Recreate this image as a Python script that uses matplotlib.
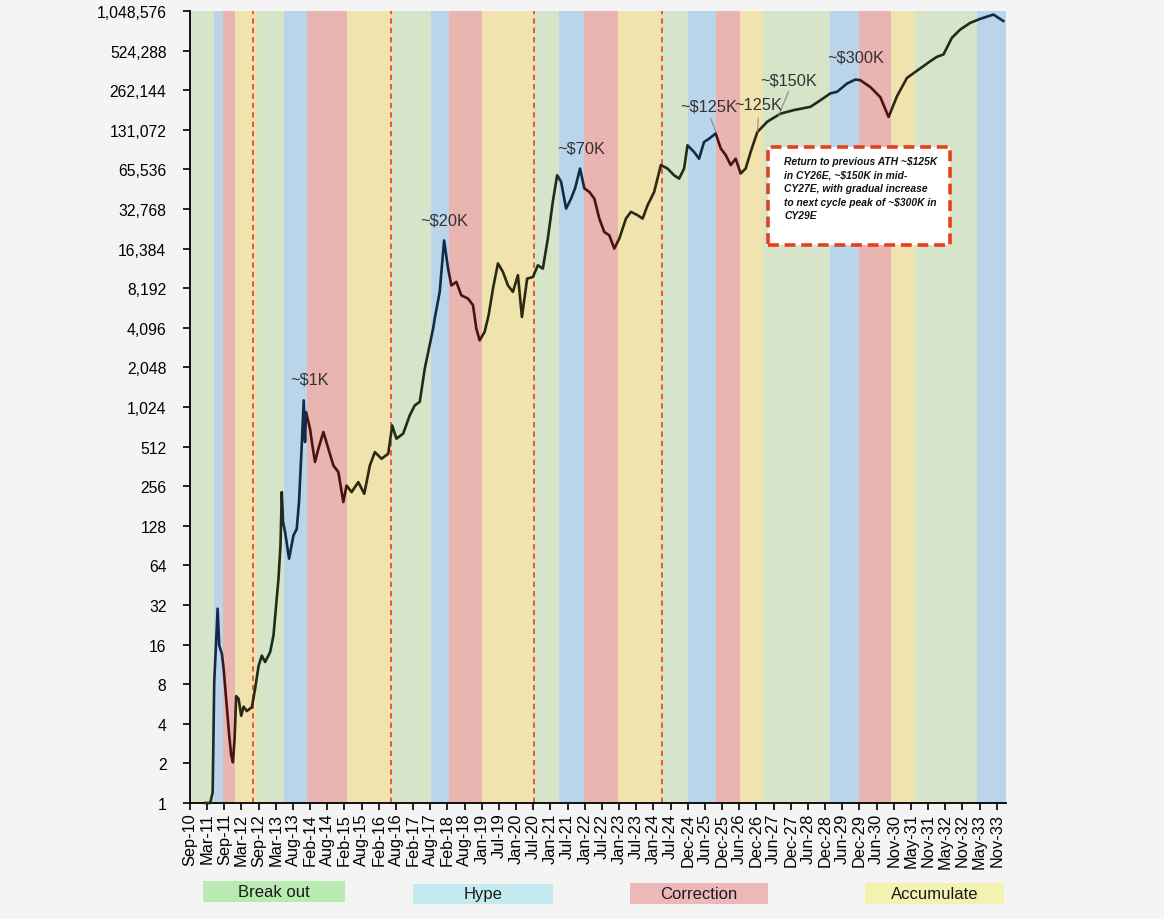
import matplotlib
matplotlib.use("Agg")
import matplotlib.pyplot as plt
from matplotlib.patches import Rectangle
from datetime import datetime, timedelta
import numpy as np

plt.rcParams['font.family'] = ['Liberation Sans', 'DejaVu Sans']

# ---------------- data ----------------
# price line (decimal year, USD); after mid-2026 = projection
years = [2011.145, 2011.288, 2011.357, 2011.403, 2011.500, 2011.546, 2011.623, 2011.672,
         2011.767, 2011.833, 2011.890, 2011.939, 2011.987, 2012.033, 2012.102, 2012.176,
         2012.245, 2012.339, 2012.483, 2012.577, 2012.675, 2012.769, 2012.864, 2013.007,
         2013.104, 2013.179, 2013.247, 2013.305, 2013.342, 2013.379, 2013.436, 2013.551,
         2013.677, 2013.771, 2013.837, 2013.915, 2013.972, 2014.009, 2014.038, 2014.152,
         2014.221, 2014.296, 2014.393, 2014.536, 2014.679, 2014.823, 2014.966, 2015.109,
         2015.203, 2015.347, 2015.539, 2015.710, 2015.871, 2016.014, 2016.206, 2016.398,
         2016.512, 2016.635, 2016.827, 2017.016, 2017.160, 2017.303, 2017.446, 2017.687,
         2017.732, 2017.876, 2018.002, 2018.116, 2018.211, 2018.354, 2018.497, 2018.689,
         2018.832, 2018.927, 2019.021, 2019.164, 2019.279, 2019.405, 2019.548, 2019.691,
         2019.835, 2019.978, 2020.121, 2020.236, 2020.387, 2020.551, 2020.694, 2020.837,
         2020.980, 2021.123, 2021.247, 2021.361, 2021.504, 2021.647, 2021.762, 2021.905,
         2022.028, 2022.172, 2022.315, 2022.458, 2022.601, 2022.744, 2022.888, 2023.031,
         2023.223, 2023.366, 2023.558, 2023.701, 2023.844, 2024.033, 2024.225, 2024.417,
         2024.606, 2024.749, 2024.892, 2024.990, 2025.179, 2025.322, 2025.465, 2025.608,
         2025.800, 2025.943, 2026.087, 2026.230, 2026.373, 2026.516, 2026.659, 2026.803,
         2026.995, 2027.281, 2027.662, 2028.043, 2028.521, 2028.807, 2029.094, 2029.286,
         2029.572, 2029.810, 2029.953, 2030.239, 2030.526, 2030.764, 2031.004, 2031.291,
         2031.623, 2031.958, 2032.150, 2032.339, 2032.579, 2032.817, 2033.103, 2033.390,
         2033.771, 2034.057]
prices = [1.0, 1.0, 1.2, 8.3, 30, 15.8, 13.6, 10.5,
          5.2, 3.25, 2.3, 2.04, 3.07, 6.5, 6.2, 4.6,
          5.4, 5.0, 5.35, 7.4, 11, 13.2, 11.8, 14,
          18.8, 31.7, 50.6, 90.8, 231, 137, 115, 72,
          108, 121, 194, 523, 1150, 555, 938, 700,
          523, 391, 494, 661, 494, 368, 328, 194,
          259, 231, 275, 224, 368, 465, 414, 452,
          741, 588, 643, 885, 1053, 1120, 2000, 4040,
          4800, 7680, 18900, 11550, 8600, 9150, 7230, 6830,
          6080, 4040, 3290, 3800, 5090, 8130, 12650, 10900,
          8600, 7680, 10300, 4950, 9700, 9960, 12230, 11550,
          19500, 37200, 59100, 52800, 33000, 39300, 47000, 66500,
          47000, 44200, 39300, 27700, 21900, 20700, 16400, 19500,
          27700, 31200, 29400, 27700, 35000, 44200, 70700, 66500,
          59100, 55800, 66500, 100000, 88900, 79000, 106000, 112000,
          123000, 94700, 84200, 70700, 79000, 61000, 66500, 88900,
          126000, 151000, 174000, 185000, 196000, 220000, 248000, 255000,
          295000, 316000, 312000, 277000, 232000, 164000, 236000, 325000,
          376000, 435000, 470000, 490000, 655000, 757000, 851000, 913000,
          985000, 880000]

# market phase bands (decimal-year edges) and their phase
band_edges = [2010.707, 2011.394, 2011.652, 2011.996, 2012.626, 2013.399, 2014.058,
              2015.203, 2016.492, 2017.638, 2018.153, 2019.099, 2020.588, 2021.304,
              2022.020, 2022.994, 2024.225, 2024.998, 2025.800, 2026.488, 2027.146,
              2029.094, 2029.924, 2030.841, 2031.528, 2033.304, 2034.134]
band_phases = ['Break out', 'Hype', 'Correction', 'Accumulate'] * 6 + ['Break out', 'Hype']

halvings = [2012.53, 2016.465, 2020.585, 2024.26]

phase_names = ['Break out', 'Hype', 'Correction', 'Accumulate']
band_colors = {'Break out': '#d6e5c9', 'Hype': '#bad5e9', 'Correction': '#eab4b1',
               'Accumulate': '#f1e3ae'}
legend_colors = {'Break out': '#b9eab2', 'Hype': '#c4ecf0', 'Correction': '#efb8b8',
                 'Accumulate': '#f4f2b0'}
line_colors = {'Break out': '#1d2d18', 'Hype': '#142a4c', 'Correction': '#4a1212',
               'Accumulate': '#2a2a12'}

# labels: (text, decimal year, value)
peak_labels = [('~$1K', 2014.144, 1684), ('~$20K', 2018.010, 26800),
               ('~$70K', 2021.934, 96000), ('~$125K', 2025.600, 200000),
               ('~125K', 2027.032, 204000), ('~$150K', 2027.891, 311000),
               ('~$300K', 2029.810, 465000)]
leaders = [((2025.657, 160000), (2025.800, 127000)),
           ((2027.023, 160000), (2026.995, 127000)),
           ((2027.891, 256000), (2027.605, 168000))]

note_text = ("Return to previous ATH ~$125K\nin CY26E, ~$150K in mid-\n"
             "CY27E, with gradual increase\nto next cycle peak of ~$300K in\nCY29E")

start_date = datetime(2010, 9, 15)
tick_step_days = 180
n_ticks = 48
y_max_exp = 20

# ---------------- helpers ----------------
Y0 = 2010.707


def to_days(y):
    return (np.asarray(y, dtype=float) - Y0) * 365.25


# ---------------- figure ----------------
fig = plt.figure(figsize=(11.64, 9.2), dpi=100)
fig.patch.set_facecolor('#f4f4f4')
ax = fig.add_axes([190 / 1164, 1 - 804 / 920, (1006 - 190) / 1164, (804 - 12) / 920])
ax.set_facecolor('#f4f4f4')

ax.set_yscale('log', base=2)
ax.set_ylim(1, 2 ** y_max_exp)
xmin, xmax = to_days(band_edges[0]), to_days(band_edges[-1])
ax.set_xlim(xmin, xmax)

# bands
for i, ph in enumerate(band_phases):
    ax.axvspan(to_days(band_edges[i]), to_days(band_edges[i + 1]),
               color=band_colors[ph], lw=0, zorder=0)

# halving lines
for h in halvings:
    ax.axvline(to_days(h), color='#e4502a', lw=1.3, ls=(0, (3, 2.2)), zorder=1)

# price line, coloured by phase band
xd = to_days(years)
for i, ph in enumerate(band_phases):
    ln, = ax.plot(xd, prices, color=line_colors[ph], lw=1.9, zorder=3,
                  solid_joinstyle='round')
    x0, x1 = to_days(band_edges[i]), to_days(band_edges[i + 1])
    clip = Rectangle((x0, 0.25), x1 - x0, 2 ** 22, transform=ax.transData)
    ln.set_clip_path(clip)

# peak labels
for txt, yr, v in peak_labels:
    ax.text(to_days(yr), v, txt, ha='center', va='center', fontsize=11.8,
            color='#333333', zorder=5)
for (a, b) in leaders:
    ax.plot([to_days(a[0]), to_days(b[0])], [a[1], b[1]], color='#8a8a8a', lw=0.8, zorder=4)

# axes styling
ax.spines['top'].set_visible(False)
ax.spines['right'].set_visible(False)
ax.spines['left'].set_linewidth(1.3)
ax.spines['bottom'].set_linewidth(1.3)

yt = [2 ** i for i in range(y_max_exp + 1)]
ax.set_yticks(yt)
ax.set_yticklabels([f'{v:,}' for v in yt])
ax.yaxis.set_minor_locator(matplotlib.ticker.NullLocator())
ax.tick_params(axis='y', labelsize=11.3, length=5, width=1.2, pad=12, colors='black')

xt = [k * tick_step_days for k in range(n_ticks)]
xl = [(start_date + timedelta(days=d)).strftime('%b-%y') for d in xt]
ax.set_xticks(xt)
ax.set_xticklabels(xl, rotation=90)
ax.tick_params(axis='x', labelsize=11.8, length=5, width=1.2, pad=2, colors='black')

# note box
fig.patches.append(Rectangle((768 / 1164, 1 - 246 / 920), (950 - 768) / 1164, (246 - 148) / 920,
                             transform=fig.transFigure, facecolor='white', edgecolor='#e4401e',
                             lw=2.6, ls=(0, (3, 1.6)), zorder=10))
fig.text(784 / 1164, 1 - 157 / 920, note_text, ha='left', va='top', fontsize=7.4,
         fontweight='bold', fontstyle='italic', linespacing=1.45, color='#111111', zorder=11)

# legend boxes
legend_boxes = {'Break out': (203, 345, 882, 903), 'Hype': (413, 553, 885, 905),
                'Correction': (630, 768, 884, 905), 'Accumulate': (865, 1004, 884, 905)}
for name in phase_names:
    l, r, t, b = legend_boxes[name]
    fig.patches.append(Rectangle((l / 1164, 1 - b / 920), (r - l) / 1164, (b - t) / 920,
                                 transform=fig.transFigure, facecolor=legend_colors[name],
                                 edgecolor='none'))
    fig.text((l + r) / 2 / 1164, 1 - (t + b) / 2 / 920, name, ha='center', va='center',
             fontsize=12, color='#1a1a1a')

fig.savefig('out.png', dpi=100, facecolor=fig.get_facecolor())
